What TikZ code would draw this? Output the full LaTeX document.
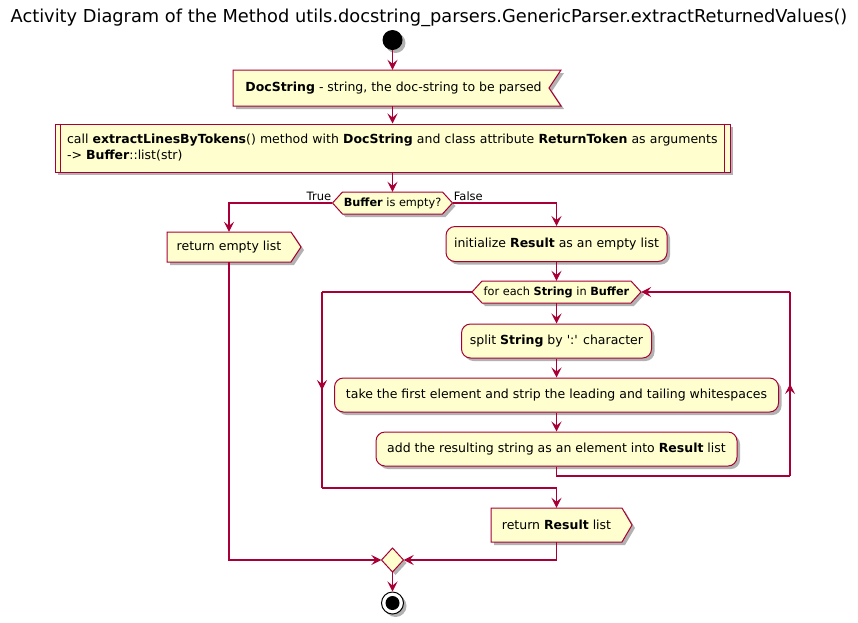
\documentclass[tikz,border=0pt]{standalone}
\usepackage{fontspec}
\setmainfont{DejaVu Sans}
\usetikzlibrary{arrows.meta,shadows,calc,decorations.markings}
\definecolor{pfill}{HTML}{FEFECE}
\definecolor{pline}{HTML}{A80036}
\begin{document}
\begin{tikzpicture}[x=1pt,y=-1pt,
  shd/.style={drop shadow={shadow xshift=3pt,shadow yshift=-3pt,opacity=0.3,fill=black}},
  act/.style={draw=pline,fill=pfill,line width=1pt,shd},
  txt/.style={font=\fontsize{12.5}{16}\selectfont,inner sep=0pt},
  hextxt/.style={font=\fontsize{11.3}{13}\selectfont,inner sep=0pt},
  lab/.style={font=\fontsize{11.5}{13}\selectfont,inner sep=0pt},
  wire/.style={draw=pline,line width=1.05pt},
  flow/.style={wire,-{Stealth[length=10pt,width=10pt,inset=4pt]}},
  midarr/.style={postaction=decorate,decoration={markings,mark=at position 0.5 with {\arrow{Stealth[length=10pt,width=10pt,inset=4pt]}}}}
]
\useasboundingbox (0,0) rectangle (858,622);
\node[font=\fontsize{17.8}{20}\selectfont] (title) at (429,18) {Activity Diagram of the Method utils.docstring\_parsers.GenericParser.extractReturnedValues()};
% start
\node[circle,fill=black,minimum size=20pt,inner sep=0pt,shd] (start) at (392.5,40) {};
% docstring input
\path[act] (233,70) -- (561,70) -- (549,88) -- (561,106) -- (233,106) -- cycle;
\node[txt,minimum width=328pt,minimum height=36pt] (doc) at (393.5,88) {\textbf{DocString} - string, the doc-string to be parsed};
% call
\node[act,txt,text width=651pt,inner xsep=12pt,minimum height=48pt,align=left] (call) at (392.5,148) {call \textbf{extractLinesByTokens}() method with \textbf{DocString} and class attribute \textbf{ReturnToken} as arguments\\-> \textbf{Buffer}::list(str)};
\draw[wire] (call.north west) ++(6,0) -- ++(0,48);
\draw[wire] (call.north east) ++(-6,0) -- ++(0,48);
% decision
\path[act] (332.5,203) -- (342.5,192) -- (442.5,192) -- (452.5,203) -- (442.5,214) -- (342.5,214) -- cycle;
\node[hextxt,minimum width=120pt,minimum height=22pt] (dec) at (392.5,203) {\textbf{Buffer} is empty?};
% return empty list
\path[act] (167,232) -- (291,232) -- (301,247) -- (291,262) -- (167,262) -- cycle;
\node[txt,minimum width=124pt,minimum height=30pt] (rempty) at (229,247) {return empty list};
% initialize
\node[act,txt,rounded corners=9pt,minimum width=221pt,minimum height=35pt] (init) at (556.5,244) {initialize \textbf{Result} as an empty list};
% loop
\path[act] (472,292) -- (482,281) -- (631,281) -- (641,292) -- (631,303) -- (482,303) -- cycle;
\node[hextxt,minimum width=169pt,minimum height=22pt] (loop) at (556.5,292) {for each \textbf{String} in \textbf{Buffer}};
\node[act,txt,rounded corners=9pt,minimum width=190pt,minimum height=34pt] (split) at (556.5,341) {split \textbf{String} by \textquotesingle:\textquotesingle{} character};
\node[act,txt,rounded corners=9pt,minimum width=444pt,minimum height=34pt] (take) at (556.5,395) {take the first element and strip the leading and tailing whitespaces};
\node[act,txt,rounded corners=9pt,minimum width=361pt,minimum height=34pt] (add) at (556.5,449) {add the resulting string as an element into \textbf{Result} list};
% return result
\path[act] (491,508) -- (622,508) -- (632,525) -- (622,542) -- (491,542) -- cycle;
\node[txt,minimum width=131pt,minimum height=34pt] (rres) at (556.5,525) {return \textbf{Result} list};
% merge
\path[act] (381.5,560) -- (392.5,548) -- (403.5,560) -- (392.5,572) -- cycle;
\node[inner sep=0pt,minimum width=22pt,minimum height=24pt] (merge) at (392.5,560) {};
% end
\node[circle,draw=black,fill=white,line width=1pt,minimum size=22pt,inner sep=0pt,shd] (end) at (392.5,603) {};
\node[circle,fill=black,minimum size=14pt,inner sep=0pt] (endin) at (end) {};
% coordinates
\coordinate (rb) at (790,476);
\coordinate (rt) at (790,292);
\coordinate (lt) at (322,292);
\coordinate (lb) at (322,488);
% connectors
\draw[flow] (start.south) -- (start.south |- doc.north);
\draw[flow] (start |- doc.south) -- (call.north);
\draw[flow] (call.south) -- (dec.north);
\draw[flow] (dec.west) -| (rempty.north);
\draw[flow] (dec.east) -| (init.north);
\node[lab,anchor=south east] (ltrue) at ($(dec.west)+(-1,-2)$) {True};
\node[lab,anchor=south west] (lfalse) at ($(dec.east)+(1,-2)$) {False};
\draw[flow] (init.south) -- (loop.north);
\draw[flow] (loop.south) -- (split.north);
\draw[flow] (split.south) -- (take.north);
\draw[flow] (take.south) -- (add.north);
\draw[wire] (add.south) |- (rb);
\draw[wire,midarr] (rb) -- (rt);
\draw[flow] (rt) -- (loop.east);
\draw[wire] (loop.west) -- (lt);
\draw[wire,midarr] (lt) -- (lb);
\draw[flow] (lb) -| (rres.north);
\draw[flow] (rres.south) |- (merge.east);
\draw[flow] (rempty.south) |- (merge.west);
\draw[flow] (merge.south) -- (end.north);
\end{tikzpicture}
\end{document}
